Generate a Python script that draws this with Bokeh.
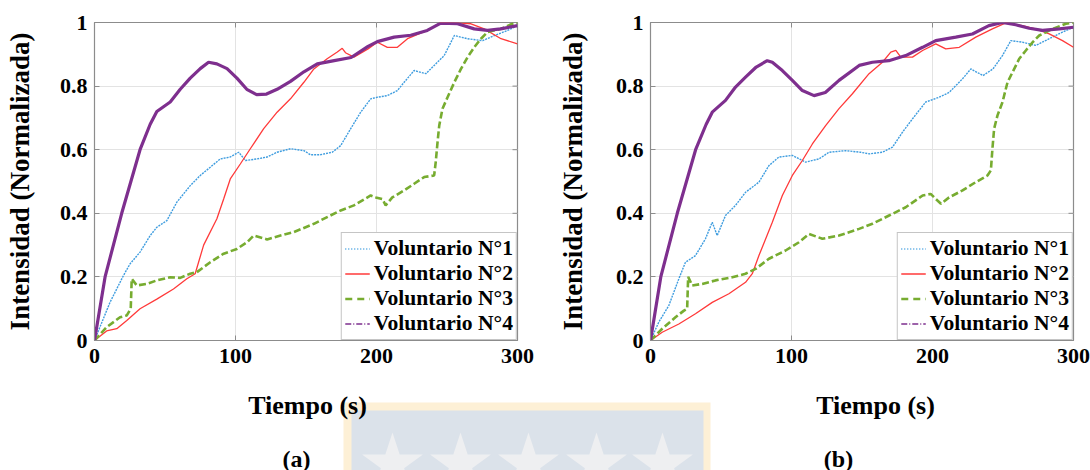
import math
from bokeh.plotting import figure
from bokeh.models import Range1d, FixedTicker, Legend, LegendItem
from bokeh.layouts import column, row
from bokeh.embed import file_html
from bokeh.resources import INLINE
from bokeh.core.properties import value

# ---------------- data: panel (a) ----------------
t1a = [0, 11, 20.5, 25.2, 32.3, 39.5, 44.2, 51.3, 58.4, 67.9, 75, 82.1, 89.2, 96.3, 102.3, 107, 115.3,
       122.4, 129.5, 139, 148.5, 153.2, 160, 168.6, 174.6, 181.7, 188.8, 195.9, 200.6, 207.7, 214.8,
       219.6, 226.7, 235, 240.9, 248, 255.2, 264.6, 275.3, 283.6, 293, 300]
v1a = [0, 0.12, 0.204, 0.241, 0.278, 0.33, 0.356, 0.377, 0.435, 0.487, 0.519, 0.545, 0.571, 0.577, 0.592,
       0.566, 0.571, 0.577, 0.592, 0.603, 0.597, 0.584, 0.584, 0.592, 0.613, 0.666, 0.718, 0.76, 0.765,
       0.77, 0.786, 0.812, 0.849, 0.839, 0.865, 0.896, 0.959, 0.949, 0.943, 0.959, 0.975, 0.99]

t2a = [0, 8.6, 15.8, 22.9, 32.3, 44.2, 56, 65.5, 71.4, 77.4, 86.8, 91.6, 96.3, 103.4, 110.5, 120, 129.5,
       139, 148.5, 155.6, 165, 172.2, 175.7, 178, 184, 194, 200.6, 207.7, 214.8, 222, 236, 245.6, 257.5,
       267, 276.4, 288.3, 300]
v2a = [0, 0.03, 0.037, 0.063, 0.1, 0.13, 0.162, 0.194, 0.21, 0.3, 0.383, 0.445, 0.508, 0.555, 0.603,
       0.666, 0.718, 0.76, 0.812, 0.854, 0.886, 0.907, 0.919, 0.905, 0.891, 0.917, 0.938, 0.922, 0.922,
       0.949, 0.975, 1.0, 0.999, 0.996, 0.98, 0.949, 0.933]

t3a = [0, 8.6, 18.1, 22.9, 25.7, 26.4, 30, 37, 44.2, 53.7, 60.8, 67.9, 72.6, 82.1, 91.6, 101, 108.2, 112.9,
       122.4, 131.9, 141.4, 148.5, 155.6, 165, 174.6, 184, 195.9, 199.5, 204.2, 206.5, 211.2, 219.6, 226.7,
       233.8, 240.9, 242, 243.3, 244.5, 246.8, 250.4, 255.2, 259.9, 264.6, 269.3, 274.1, 278.8, 288.3,
       297.8, 300]
v3a = [0, 0.042, 0.073, 0.079, 0.1, 0.194, 0.173, 0.178, 0.189, 0.199, 0.197, 0.21, 0.215, 0.246, 0.273,
       0.288, 0.309, 0.33, 0.318, 0.33, 0.341, 0.354, 0.367, 0.388, 0.409, 0.425, 0.456, 0.45, 0.445, 0.425,
       0.45, 0.472, 0.493, 0.514, 0.519, 0.561, 0.624, 0.676, 0.729, 0.765, 0.812, 0.854, 0.891, 0.922,
       0.949, 0.97, 0.98, 0.999, 1.0]

t4a = [0, 7.5, 19.3, 32.3, 39.5, 44.2, 53.7, 60.8, 67.9, 75, 80.9, 86.8, 94, 101, 108, 115, 122, 129.5,
       139, 148.5, 158, 170, 182, 194, 200.6, 212.5, 224.3, 236, 245.6, 257.5, 269.3, 278.8, 288, 300]
v4a = [0, 0.2, 0.4, 0.6, 0.68, 0.72, 0.75, 0.79, 0.825, 0.855, 0.875, 0.87, 0.855, 0.825, 0.79, 0.773,
       0.775, 0.79, 0.815, 0.845, 0.87, 0.88, 0.89, 0.925, 0.94, 0.954, 0.96, 0.975, 0.998, 0.996, 0.98,
       0.975, 0.98, 0.99]

# ---------------- data: panel (b) ----------------
t1b = [0, 5.9, 13, 20.1, 24.8, 31.9, 39, 43.8, 47.3, 53.2, 60.3, 67.4, 76.9, 84, 91.1, 100.6, 110, 119.5,
       126.6, 138.4, 149, 155, 164.5, 171.6, 178.7, 185.8, 195.2, 204.7, 211.8, 221.3, 227.2, 235.8,
       242.9, 249.6, 255.6, 263.8, 273.3, 282.8, 292.2, 300]
v1b = [0, 0.058, 0.11, 0.194, 0.246, 0.267, 0.32, 0.372, 0.33, 0.393, 0.425, 0.466, 0.498, 0.55, 0.577,
       0.582, 0.561, 0.571, 0.592, 0.597, 0.592, 0.587, 0.592, 0.608, 0.655, 0.697, 0.75, 0.765, 0.78,
       0.823, 0.854, 0.833, 0.854, 0.896, 0.943, 0.938, 0.928, 0.949, 0.97, 0.985]

t2b = [0, 8.3, 20.1, 31.9, 43.8, 55.6, 67.4, 72.2, 76.9, 86.4, 93.5, 100.6, 107.7, 114.8, 124.2, 133.7,
       143.2, 155, 164.5, 170.4, 174, 177.5, 185.8, 193, 202.3, 209.4, 219, 230.7, 242.5, 252, 263.8, 273,
       282.8, 292.2, 300]
v2b = [0, 0.026, 0.052, 0.084, 0.12, 0.147, 0.183, 0.21, 0.267, 0.372, 0.456, 0.519, 0.566, 0.618, 0.676,
       0.729, 0.776, 0.839, 0.875, 0.907, 0.912, 0.891, 0.891, 0.912, 0.933, 0.917, 0.922, 0.954, 0.98,
       0.999, 0.99, 0.98, 0.964, 0.943, 0.922]

t3b = [0, 8.3, 17.7, 23.7, 26, 26.7, 29.6, 36.7, 46.1, 58, 67.4, 74.5, 84, 95.8, 105.3, 112.4, 121.9,
       133.7, 147.9, 157.4, 169.2, 181, 193, 198.7, 202.3, 206, 211.8, 221.3, 230.7, 239, 241.4, 242.5,
       243.7, 246.1, 249.6, 253.2, 256.8, 261.5, 266.2, 271, 275.7, 285.2, 294.6, 300]
v3b = [0, 0.037, 0.073, 0.094, 0.1, 0.2, 0.173, 0.178, 0.189, 0.199, 0.21, 0.225, 0.257, 0.283, 0.309,
       0.335, 0.32, 0.33, 0.351, 0.367, 0.393, 0.419, 0.456, 0.461, 0.445, 0.43, 0.45, 0.472, 0.498, 0.519,
       0.535, 0.603, 0.666, 0.708, 0.749, 0.812, 0.844, 0.886, 0.912, 0.938, 0.959, 0.98, 0.996, 1.0]

t4b = [0, 7.3, 19, 32, 39.5, 43.8, 53.2, 60.3, 67.4, 75, 82.8, 86.4, 93.5, 100.6, 107.7, 116, 124, 133.7,
       148, 157.4, 169, 181, 193, 202.3, 216.5, 228.3, 240, 249.6, 259, 268.6, 278, 290, 300]
v4b = [0, 0.2, 0.4, 0.6, 0.68, 0.718, 0.755, 0.797, 0.828, 0.86, 0.88, 0.875, 0.849, 0.818, 0.786, 0.77,
       0.78, 0.818, 0.865, 0.875, 0.88, 0.896, 0.922, 0.943, 0.954, 0.964, 0.99, 1.0, 0.993, 0.982, 0.975,
       0.98, 0.985]

series_labels = ["Voluntario N°1", "Voluntario N°2", "Voluntario N°3", "Voluntario N°4"]
x_ticks = [0, 100, 200, 300]
y_ticks = [0, 0.2, 0.4, 0.6, 0.8, 1]
y_tick_labels = ["0", "0.2", "0.4", "0.6", "0.8", "1"]
x_title = "Tiempo (s)"
y_title = "Intensidad (Normalizada)"
captions = ["(a)", "(b)"]

# ---------------- styles ----------------
FONT = "Liberation Serif"
C1, C2, C3, C4 = "#3f9ddf", "#ff3a3a", "#77ac30", "#7e2f8e"
AXC = "#8c8c8c"


def make_panel(data, bl, br, ylab_standoff):
    p = figure(width=545, height=380, x_range=Range1d(0, 300), y_range=Range1d(0, 1),
               output_backend="svg", toolbar_location=None,
               min_border_left=bl, min_border_right=br, min_border_top=22, min_border_bottom=40)
    p.outline_line_color = AXC
    p.outline_line_width = 1.2
    p.background_fill_color = "white"

    p.xaxis.ticker = FixedTicker(ticks=x_ticks)
    p.yaxis.ticker = FixedTicker(ticks=y_ticks)
    p.xgrid.ticker = FixedTicker(ticks=x_ticks)
    p.ygrid.ticker = FixedTicker(ticks=y_ticks)
    p.grid.grid_line_color = "#e3e3e3"
    p.grid.grid_line_width = 1

    p.yaxis.major_label_overrides = {k: s for k, s in zip(y_ticks, y_tick_labels)}
    for ax in (p.xaxis, p.yaxis):
        ax.axis_line_color = AXC
        ax.major_tick_line_color = AXC
        ax.major_tick_in = 5
        ax.major_tick_out = 0
        ax.minor_tick_line_color = None
        ax.major_label_text_font = FONT
        ax.major_label_text_font_style = "bold"
        ax.major_label_text_font_size = "22px"
        ax.major_label_text_color = "black"
    p.xaxis.major_label_standoff = 8
    p.yaxis.major_label_standoff = 7
    p.yaxis.axis_label = y_title
    p.yaxis.axis_label_text_font = FONT
    p.yaxis.axis_label_text_font_style = "bold"
    p.yaxis.axis_label_text_font_size = "27px"
    p.yaxis.axis_label_text_color = "black"
    p.yaxis.axis_label_standoff = ylab_standoff

    # inward ticks on the top and right edges of the box
    p.ray(x=x_ticks[1:-1], y=[y_ticks[-1]] * (len(x_ticks) - 2), length=5, length_units="screen",
          angle=-math.pi / 2, line_color=AXC, line_width=1)
    p.ray(x=[x_ticks[-1]] * (len(y_ticks) - 2), y=y_ticks[1:-1], length=5, length_units="screen",
          angle=math.pi, line_color=AXC, line_width=1)

    (t1, v1), (t2, v2), (t3, v3), (t4, v4) = data
    p.line(t1, v1, line_color=C1, line_width=1.4, line_dash="2 1")
    p.line(t2, v2, line_color=C2, line_width=1.3)
    p.line(t3, v3, line_color=C3, line_width=2.6, line_dash="7 3")
    p.line(t4, v4, line_color=C4, line_width=3.2)

    # legend samples (kept off-range so only their legend swatch shows)
    off_x, off_y = [-50, -40], [-1, -1]
    l1 = p.line(off_x, off_y, line_color=C1, line_width=1.3, line_dash="1 2")
    l2 = p.line(off_x, off_y, line_color=C2, line_width=1.3)
    l3 = p.line(off_x, off_y, line_color=C3, line_width=2.6, line_dash="7 5")
    l4 = p.line(off_x, off_y, line_color=C4, line_width=1.3, line_dash="6 2 1 2")
    legend = Legend(items=[LegendItem(label=lab, renderers=[r])
                           for lab, r in zip(series_labels, [l1, l2, l3, l4])],
                    location="bottom_right", margin=0, padding=3, spacing=0,
                    glyph_width=25, glyph_height=25, label_height=25, label_standoff=4,
                    label_text_font=FONT, label_text_font_style="bold",
                    label_text_font_size="21.6px", label_text_color="black",
                    border_line_color=AXC, border_line_width=1.5,
                    background_fill_color="white", background_fill_alpha=1)
    p.add_layout(legend)
    return p


pa = make_panel([(t1a, v1a), (t2a, v2a), (t3a, v3a), (t4a, v4a)], 94, 28, 22)
pb = make_panel([(t1b, v1b), (t2b, v2b), (t3b, v3b), (t4b, v4b)], 105, 17, 25)

# bottom strip: axis titles, captions and the faded watermark
s = figure(width=1090, height=90, x_range=Range1d(0, 1090), y_range=Range1d(470, 380),
           output_backend="svg", toolbar_location=None, x_axis_type=None, y_axis_type=None,
           min_border=0)
s.outline_line_color = None
s.grid.visible = False
s.quad(left=[343], right=[710], top=[402], bottom=[480], fill_color="#fdf0d6", line_color=None)
s.quad(left=[351], right=[703], top=[410], bottom=[480], fill_color="#dbe2ea", line_color=None)
s.scatter(x=[392, 460, 528, 596, 662], y=[464] * 5, marker="star", size=64,
          fill_color="#eeeff1", line_color=None)
s.text(x=[307, 875], y=[405, 405], text=[x_title, x_title], text_font=value(FONT),
       text_font_style="bold", text_font_size="26px", text_align="center", text_baseline="middle",
       text_color="black")
s.text(x=[296, 838], y=[458, 458], text=captions, text_font=value(FONT),
       text_font_style="bold", text_font_size="24px", text_align="center", text_baseline="middle",
       text_color="black")

layout = column(row(pa, pb), s)
open("out.html", "w").write(file_html(layout, INLINE))
